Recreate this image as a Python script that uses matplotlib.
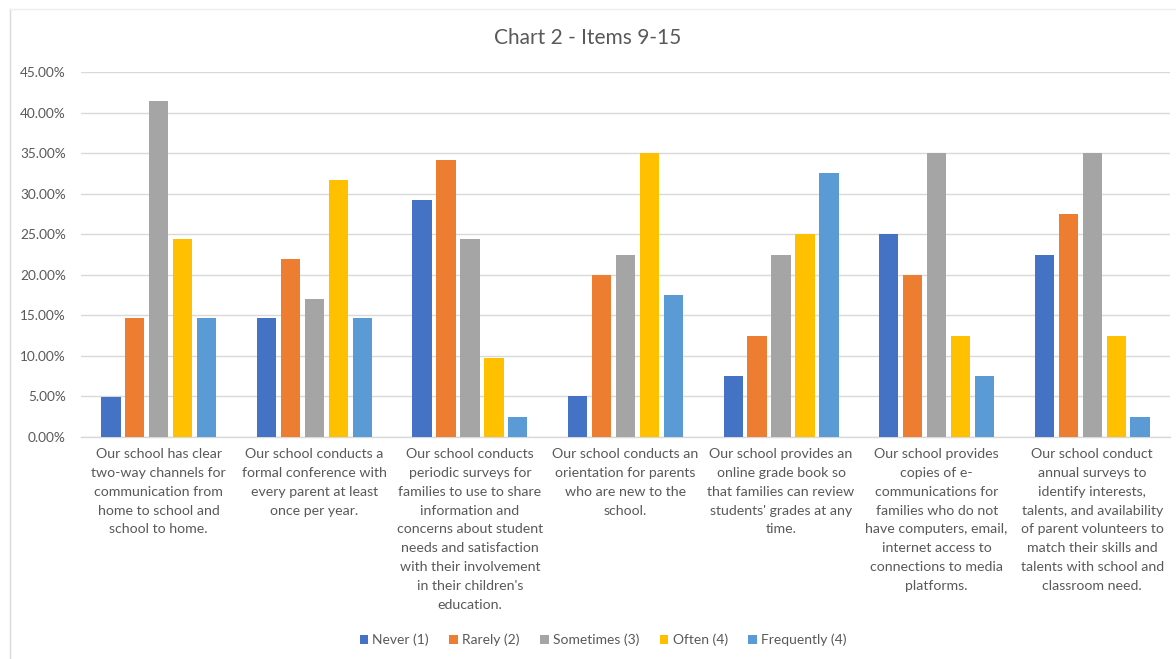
import matplotlib
matplotlib.use("Agg")
import matplotlib.pyplot as plt
import numpy as np
from matplotlib.lines import Line2D
from matplotlib.ticker import PercentFormatter

plt.rcParams['font.family'] = ['Lato', 'DejaVu Sans']

title = "Chart 2 - Items 9-15"

categories = [
    "Our school has clear\ntwo-way channels for\ncommunication from\nhome to school and\nschool to home.",
    "Our school conducts a\nformal conference with\nevery parent at least\nonce per year.",
    "Our school conducts\nperiodic surveys for\nfamilies to use to share\ninformation and\nconcerns about student\nneeds and satisfaction\nwith their involvement\nin their children's\neducation.",
    "Our school conducts an\norientation for parents\nwho are new to the\nschool.",
    "Our school provides an\nonline grade book so\nthat families can review\nstudents' grades at any\ntime.",
    "Our school provides\ncopies of e-\ncommunications for\nfamilies who do not\nhave computers, email,\ninternet access to\nconnections to media\nplatforms.",
    "Our school conduct\nannual surveys to\nidentify interests,\ntalents, and availability\nof parent volunteers to\nmatch their skills and\ntalents with school and\nclassroom need.",
]

series_names = ["Never (1)", "Rarely (2)", "Sometimes (3)", "Often (4)", "Frequently (4)"]

never      = [4.88, 14.63, 29.27,  5.0,  7.5, 25.0, 22.5]
rarely     = [14.63, 21.95, 34.15, 20.0, 12.5, 20.0, 27.5]
sometimes  = [41.46, 17.07, 24.39, 22.5, 22.5, 35.0, 35.0]
often      = [24.39, 31.71,  9.76, 35.0, 25.0, 12.5, 12.5]
frequently = [14.63, 14.63,  2.44, 17.5, 32.5,  7.5,  2.5]

colors = ["#4472C4", "#ED7D31", "#A5A5A5", "#FFC000", "#5B9BD5"]
text_color = "#595959"
grid_color = "#D9D9D9"

fig = plt.figure(figsize=(11.76, 6.59), dpi=100)
ax = fig.add_axes([81 / 1176, 1 - 437 / 659, (1170 - 81) / 1176, (437 - 72) / 659])

x = np.arange(len(categories))
pitch = 0.154
width = 0.124
all_series = [never, rarely, sometimes, often, frequently]
for i, (vals, name, col) in enumerate(zip(all_series, series_names, colors)):
    offs = (i - 2) * pitch
    ax.bar(x + offs, vals, width=width, color=col, label=name, zorder=3)

ax.set_xlim(-0.5, len(categories) - 0.5)
ax.set_ylim(0, 45)
ax.set_yticks(np.arange(0, 45.1, 5))
ax.yaxis.set_major_formatter(PercentFormatter(decimals=2))
ax.grid(axis='y', color=grid_color, linewidth=1.0, zorder=0)
for s in ["top", "right", "left"]:
    ax.spines[s].set_visible(False)
ax.spines["bottom"].set_color(grid_color)
ax.spines["bottom"].set_linewidth(1.0)
ax.tick_params(axis='y', length=0, pad=11, labelsize=9.8, labelcolor=text_color)
ax.tick_params(axis='x', length=0, pad=8, labelsize=10.2, labelcolor=text_color)
ax.set_xticks(x)
ax.set_xticklabels(categories, linespacing=1.68, va='top', ha='center')

fig.text(0.5, 1 - 38 / 659, title, ha='center', va='center', fontsize=15, color=text_color)

leg = fig.legend(loc='center', bbox_to_anchor=(603 / 1176, 1 - 640 / 659), ncol=5,
                 frameon=False, fontsize=10, handlelength=0.6, handleheight=0.6,
                 handletextpad=0.3, columnspacing=1.5, labelcolor=text_color)

# faint chart-area border on the visible edges
fig.add_artist(Line2D([10 / 1176, 10 / 1176], [0, 1 - 9 / 659], color=grid_color, linewidth=1.0))
fig.add_artist(Line2D([10 / 1176, 1], [1 - 9 / 659, 1 - 9 / 659], color="#EEEEEE", linewidth=1.0))

fig.savefig("out.png", dpi=100, facecolor="white")
